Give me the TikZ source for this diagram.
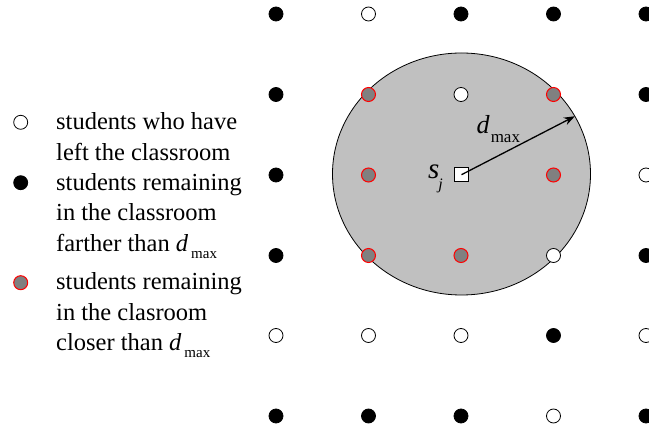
\documentclass[tikz,border=0pt]{standalone}
\usepackage{fontspec}
\setmainfont{Liberation Serif}
\usetikzlibrary{arrows.meta, positioning, shapes.geometric}

\definecolor{zonegray}{RGB}{192,192,192}
\newcommand{\dmaxlabel}[3]{\textit{d}\kern#3\raisebox{-#2}{\fontsize{#1}{#1}\selectfont max}}

\begin{document}
\begin{tikzpicture}[
    x=1pt, y=-1pt,
    dot/.style={circle, inner sep=0pt, minimum size=14pt, line width=0.8pt},
    gone/.style={dot, draw=black, fill=white},
    far/.style={dot, draw=black, fill=black},
    near/.style={dot, draw=red, fill=gray, line width=1pt},
    legend/.style={anchor=base west, align=left, inner sep=0pt, font=\fontsize{24.5}{30.5}\selectfont},
    arrow/.style={-{Stealth[length=11pt, width=8pt]}, line width=1.3pt}
]
    \useasboundingbox (0,0) rectangle (649,430);

    % reach of s_j
    \node[ellipse, draw, fill=zonegray, line width=0.8pt, inner sep=0pt, outer sep=0pt,
          minimum width=258pt, minimum height=242pt] (zone) at (461.5,174) {};

    % legend (base = last line)
    \node[gone] (keygone) at (20.7,122.3) {};
    \node[far] (keyfar) at (20.7,182.7) {};
    \node[near] (keynear) at (20.7,282.7) {};
    \node[legend] (txtgone) at (56,160.5) {students who have\\left the classroom};
    \node[legend] (txtfar) at (56,251.5) {students remaining\\in the classroom\\farther than \dmaxlabel{15}{7pt}{3pt}};
    \node[legend] (txtnear) at (56,350.7) {students remaining\\in the clasroom\\closer than \dmaxlabel{15}{7pt}{3pt}};

    % grid of students
    \node[far] (p00) at (276,14) {};    \node[gone] (p01) at (368.5,14) {};  \node[far] (p02) at (461,14) {};
    \node[far] (p03) at (553.5,14) {};  \node[far] (p04) at (646,14) {};
    \node[far] (p10) at (276,94.5) {};  \node[near] (p11) at (368.5,94.5) {}; \node[gone] (p12) at (461,94.5) {};
    \node[near] (p13) at (553.5,94.5) {}; \node[far] (p14) at (646,94.5) {};
    \node[far] (p20) at (276,175) {};   \node[near] (p21) at (368.5,175) {}; \node[near] (p23) at (553.5,175) {};
    \node[gone] (p24) at (646,175) {};
    \node[far] (p30) at (276,255.5) {}; \node[near] (p31) at (368.5,255.5) {}; \node[near] (p32) at (461,255.5) {};
    \node[gone] (p33) at (553.5,255.5) {}; \node[far] (p34) at (646,255.5) {};
    \node[gone] (p40) at (276,335.5) {}; \node[gone] (p41) at (368.5,335.5) {}; \node[gone] (p42) at (461,335.5) {};
    \node[far] (p43) at (553.5,335.5) {}; \node[gone] (p44) at (646,335.5) {};
    \node[far] (p50) at (276,416) {};   \node[far] (p51) at (368.5,416) {};  \node[far] (p52) at (461,416) {};
    \node[gone] (p53) at (553.5,416) {}; \node[far] (p54) at (646,416) {};

    % the seat s_j and its radius
    \node[draw, fill=white, minimum size=14pt, inner sep=0pt, line width=1pt] (sq) at (461.5,174.7) {};
    \draw[arrow] (sq.center) -- (zone.27.3);
    \node[anchor=base west, inner sep=0pt, font=\fontsize{26}{26}\selectfont] (rlabel) at (476.5,134) {\dmaxlabel{17}{9pt}{1pt}};
    \node[anchor=base west, inner sep=0pt, font=\fontsize{29}{29}\selectfont] (slabel) at (428,178.3)
        {\textit{s}\kern-1pt\raisebox{-11pt}{\fontsize{16}{16}\selectfont\textit{j}}};
\end{tikzpicture}
\end{document}
